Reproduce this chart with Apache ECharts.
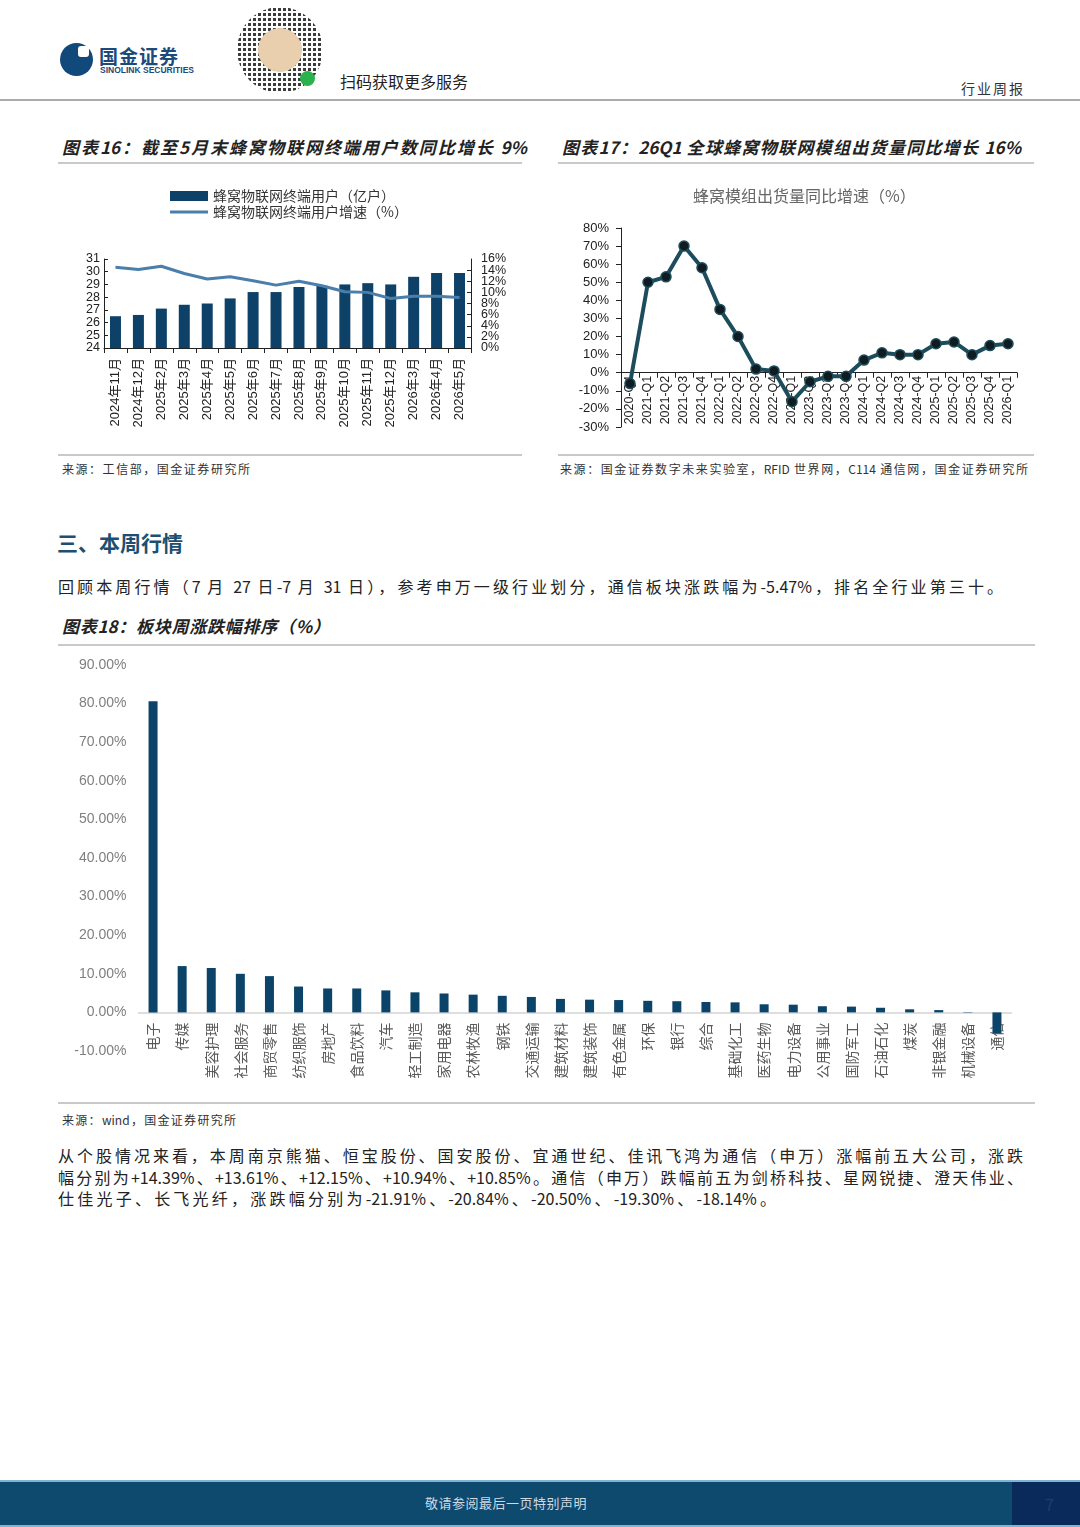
<!DOCTYPE html>
<html>
<head>
<meta charset="utf-8">
<script src="https://cdn.jsdelivr.net/npm/echarts@6/dist/echarts.min.js"></script>
<style>
  body { margin: 0; width: 1080px; height: 1527px; background: #fff; position: relative; overflow: hidden;
         font-family: "Noto Sans CJK SC", "Liberation Sans", sans-serif; color: #222; }
  .abs { position: absolute; }
  .hr { position: absolute; height: 2px; background: #c9c9c9; }
  .ftitle { position: absolute; font-size: 17px; font-weight: bold; font-style: italic; color: #222; white-space: nowrap;
            text-align: justify; text-align-last: justify; line-height: 24px; }
  .src { position: absolute; font-size: 12px; color: #333; white-space: nowrap; text-align: justify; text-align-last: justify; line-height: 16px; }
  .line { position: absolute; font-size: 16px; color: #222; line-height: 21.5px; white-space: nowrap; }
  .just { text-align: justify; text-align-last: justify; }
</style>
</head>
<body>
<!-- 页眉 -->
<div class="abs" style="left:60px;top:43px;width:33px;height:33px;border-radius:50%;background:#10497a;"></div>
<div class="abs" style="left:78px;top:46px;width:11px;height:11px;border-radius:3px;background:#fff;"></div>
<div class="abs" style="left:99px;top:46px;font-size:19px;line-height:19px;font-weight:bold;color:#1b4a7b;letter-spacing:1px;">国金证券</div>
<div class="abs" style="left:100px;top:66px;font-size:8.5px;line-height:9px;font-weight:bold;color:#1b4a7b;font-family:'Liberation Sans',sans-serif;">SINOLINK SECURITIES</div>
<div class="abs" style="left:237px;top:7px;width:86px;height:86px;border-radius:50%;
     background:radial-gradient(circle, #3a3a3a 1.4px, transparent 1.9px) 0 0/5px 5px;"></div>
<div class="abs" style="left:258px;top:28px;width:44px;height:44px;border-radius:50%;background:#e9cfae;"></div>
<div class="abs" style="left:300px;top:71px;width:15px;height:15px;border-radius:50%;background:#2bb24c;"></div>
<div class="abs" style="left:340px;top:69px;font-size:16px;color:#222;">扫码获取更多服务</div>
<div class="abs" style="left:961px;top:78px;font-size:14px;color:#333;letter-spacing:2px;">行业周报</div>
<div class="hr" style="left:0;top:99px;width:1080px;background:#aaa;"></div>

<!-- 图表16/17 -->
<div class="ftitle" style="left:62px;top:135px;width:465px;">图表16：截至5月末蜂窝物联网终端用户数同比增长 9%</div>
<div class="ftitle" style="left:562px;top:135px;width:459px;">图表17：26Q1 全球蜂窝物联网模组出货量同比增长 16%</div>
<div class="hr" style="left:58px;top:162px;width:464px;"></div>
<div class="hr" style="left:558px;top:162px;width:476px;"></div>
<div id="c16" class="abs" style="left:60px;top:178px;width:460px;height:262px;"></div>
<div id="c17" class="abs" style="left:570px;top:178px;width:460px;height:262px;"></div>
<div class="hr" style="left:58px;top:454px;width:464px;"></div>
<div class="hr" style="left:558px;top:454px;width:476px;"></div>
<div class="src" style="left:62px;top:461px;width:188px;">来源：工信部，国金证券研究所</div>
<div class="src" style="left:560px;top:461px;width:468px;">来源：国金证券数字未来实验室，RFID 世界网，C114 通信网，国金证券研究所</div>

<!-- 三、本周行情 -->
<div class="abs" style="left:57px;top:527px;font-size:21px;font-weight:bold;color:#1d5070;">三、本周行情</div>
<div class="line just" style="left:58px;top:576px;width:945px;">回顾本周行情（7 月 27 日-7 月 31 日），参考申万一级行业划分，通信板块涨跌幅为-5.47%，排名全行业第三十。</div>
<div class="ftitle" style="left:62px;top:614px;width:268px;">图表18：板块周涨跌幅排序（%）</div>
<div class="hr" style="left:58px;top:644px;width:977px;"></div>
<div id="c18" class="abs" style="left:58px;top:650px;width:977px;height:450px;"></div>
<div class="hr" style="left:58px;top:1102px;width:977px;"></div>
<div class="src" style="left:62px;top:1112px;width:174px;">来源：wind，国金证券研究所</div>
<div class="line just" style="left:58px;top:1145px;width:965px;">从个股情况来看，本周南京熊猫、恒宝股份、国安股份、宜通世纪、佳讯飞鸿为通信（申万）涨幅前五大公司，涨跌</div>
<div class="line just" style="left:58px;top:1167px;width:965px;">幅分别为+14.39%、+13.61%、+12.15%、+10.94%、+10.85%。通信（申万）跌幅前五为剑桥科技、星网锐捷、澄天伟业、</div>
<div class="line just" style="left:58px;top:1188px;width:718px;">仕佳光子、长飞光纤，涨跌幅分别为-21.91%、-20.84%、-20.50%、-19.30%、-18.14%。</div>

<!-- 页脚 -->
<div class="abs" style="left:0;top:1480px;width:1080px;height:2px;background:#7fb4d0;"></div>
<div class="abs" style="left:0;top:1482px;width:1012px;height:43px;background:#0e4a6e;"></div>
<div class="abs" style="left:1012px;top:1482px;width:68px;height:43px;background:#0b2a5c;"></div>
<div class="abs" style="left:0;top:1525px;width:1080px;height:2px;background:#7fb4d0;"></div>
<div class="abs" style="left:0;top:1493px;width:1012px;text-align:center;font-size:13px;letter-spacing:0.5px;color:#cdd9e3;">敬请参阅最后一页特别声明</div>
<div class="abs" style="left:1045px;top:1492px;font-size:16px;color:#1c3d6e;">7</div>

<script>
const FONT = "'Liberation Sans', 'Noto Sans CJK SC', sans-serif"

// 图表16 蜂窝物联网终端用户
const months16 = ['2024年11月', '2024年12月', '2025年2月', '2025年3月', '2025年4月', '2025年5月', '2025年6月', '2025年7月',
    '2025年8月', '2025年9月', '2025年10月', '2025年11月', '2025年12月', '2026年3月', '2026年4月', '2026年5月']
const users16 = [26.5, 26.6, 27.1, 27.4, 27.5, 27.9, 28.4, 28.4, 28.8, 28.9, 29.0, 29.1, 29.0, 29.6, 29.9, 29.9]
const growth16 = [14.5, 14.1, 14.7, 13.4, 12.4, 12.8, 12.1, 11.3, 12.0, 11.2, 10.1, 10.0, 8.9, 9.3, 9.3, 9.1]

// 图表17 蜂窝模组出货量同比
const quarters17 = ['2020-Q4', '2021-Q1', '2021-Q2', '2021-Q3', '2021-Q4', '2022-Q1', '2022-Q2', '2022-Q3', '2022-Q4',
    '2023-Q1', '2023-Q2', '2023-Q3', '2023-Q4', '2024-Q1', '2024-Q2', '2024-Q3', '2024-Q4',
    '2025-Q1', '2025-Q2', '2025-Q3', '2025-Q4', '2026-Q1']
const shipYoy17 = [-6, 50, 53, 70, 58, 35, 20, 2, 1, -16, -5, -2, -2, 7, 11, 10, 10, 16, 17, 10, 15, 16]

// 图表18 板块周涨跌幅
const sectors18 = ['电子', '传媒', '美容护理', '社会服务', '商贸零售', '纺织服饰', '房地产', '食品饮料', '汽车', '轻工制造',
    '家用电器', '农林牧渔', '钢铁', '交通运输', '建筑材料', '建筑装饰', '有色金属', '环保', '银行', '综合',
    '基础化工', '医药生物', '电力设备', '公用事业', '国防军工', '石油石化', '煤炭', '非银金融', '机械设备', '通信']
const change18 = [80.6, 12.0, 11.5, 10.0, 9.4, 6.7, 6.2, 6.2, 5.7, 5.2,
    4.9, 4.6, 4.3, 4.0, 3.5, 3.3, 3.2, 3.0, 2.9, 2.7,
    2.6, 2.1, 2.0, 1.6, 1.5, 1.2, 0.8, 0.6, 0.1, -5.47]

// 把类目轴挪到 0 刻度线上（标签跟着轴走）
function zeroOffset(gridHeight, min, max) {
    return -gridHeight * (0 - min) / (max - min)
}

const rightLabel = { fontSize: 12.5, color: '#222', margin: 10, formatter: '{value}%', hideOverlap: false }

// 渲染图表16
const chart16 = echarts.init(document.querySelector('#c16'))
chart16.setOption({
    textStyle: { fontFamily: FONT },
    animation: false,
    legend: {
        orient: 'vertical',
        left: 105,
        top: 6,
        itemWidth: 38,
        itemHeight: 10,
        itemGap: 2,
        textStyle: { fontSize: 14, color: '#333', fontFamily: "'Noto Sans CJK SC', sans-serif" },
        data: [
            { name: '蜂窝物联网终端用户（亿户）', icon: 'rect' },
            { name: '蜂窝物联网终端用户增速（%）', icon: 'path://M0,0 H38 V3 H0 Z' }
        ]
    },
    grid: { left: 44, right: 49, top: 81, bottom: 92, outerBoundsMode: 'none' },
    xAxis: {
        type: 'category',
        data: months16,
        axisLine: { lineStyle: { color: '#222' } },
        axisTick: { show: true, lineStyle: { color: '#222' } },
        axisLabel: { rotate: 90, interval: 0, fontSize: 13, color: '#222', margin: 10 }
    },
    yAxis: [
        {
            type: 'value', min: 24, max: 31, interval: 1,
            axisLine: { show: true, lineStyle: { color: '#222' } },
            axisTick: { show: true, inside: true, length: 4, lineStyle: { color: '#222' } },
            splitLine: { show: false },
            axisLabel: { fontSize: 12.5, color: '#222', margin: 4, hideOverlap: false, showMinLabel: true, showMaxLabel: true }
        },
        {
            // 右轴刻度很密：中间标签放这里，两端 0%、16% 由下一根轴补上
            type: 'value', min: 0, max: 16, interval: 2,
            axisLine: { show: true, lineStyle: { color: '#222' } },
            axisTick: { show: true, inside: true, length: 4, lineStyle: { color: '#222' } },
            splitLine: { show: false },
            axisLabel: { ...rightLabel, showMinLabel: false, showMaxLabel: false }
        },
        {
            type: 'value', position: 'right', min: 0, max: 16, interval: 16,
            axisLine: { show: false },
            axisTick: { show: false },
            splitLine: { show: false },
            axisLabel: { ...rightLabel, showMinLabel: true, showMaxLabel: true }
        }
    ],
    series: [
        {
            name: '蜂窝物联网终端用户（亿户）',
            type: 'bar',
            data: users16,
            barWidth: 11,
            itemStyle: { color: '#0d4168' }
        },
        {
            name: '蜂窝物联网终端用户增速（%）',
            type: 'line',
            yAxisIndex: 1,
            data: growth16,
            symbol: 'none',
            lineStyle: { color: '#4a7eab', width: 3 },
            itemStyle: { color: '#4a7eab' }
        }
    ]
})

// 渲染图表17
const min17 = -30, max17 = 80
const chart17 = echarts.init(document.querySelector('#c17'))
chart17.setOption({
    textStyle: { fontFamily: FONT },
    animation: false,
    title: {
        text: '蜂窝模组出货量同比增速（%）',
        left: 118,
        top: 5,
        textStyle: { fontSize: 16, fontWeight: 'normal', color: '#666', fontFamily: "'Noto Sans CJK SC', sans-serif" }
    },
    grid: { left: 51, right: 13, top: 50, bottom: 13, outerBoundsMode: 'none' },
    xAxis: {
        type: 'category',
        data: quarters17,
        offset: zeroOffset(262 - 50 - 13, min17, max17),
        axisLine: { onZero: false, lineStyle: { color: '#222' } },
        axisTick: { show: true, lineStyle: { color: '#222' } },
        axisLabel: { rotate: 90, interval: 0, fontSize: 12.5, color: '#222', margin: 3 }
    },
    yAxis: {
        type: 'value', min: min17, max: max17, interval: 10,
        axisLine: { show: true, lineStyle: { color: '#222' } },
        axisTick: { show: true, lineStyle: { color: '#222' } },
        splitLine: { show: false },
        axisLabel: { fontSize: 13, color: '#222', margin: 12, formatter: '{value}%', hideOverlap: false, showMinLabel: true, showMaxLabel: true }
    },
    series: [{
        type: 'line',
        data: shipYoy17,
        symbol: 'circle',
        symbolSize: 10,
        lineStyle: { color: '#1d4d5c', width: 4 },
        itemStyle: { color: '#101c20', borderColor: '#1d4d5c', borderWidth: 1.5 }
    }]
})

// 渲染图表18
const min18 = -10, max18 = 90
const chart18 = echarts.init(document.querySelector('#c18'))
chart18.setOption({
    textStyle: { fontFamily: FONT },
    animation: false,
    grid: { left: 80.5, right: 23.5, top: 15, bottom: 49, outerBoundsMode: 'none' },
    xAxis: {
        type: 'category',
        data: sectors18,
        offset: zeroOffset(450 - 15 - 49, min18, max18),
        axisLine: { onZero: false, lineStyle: { color: '#d4d4d4', width: 1.5 } },
        axisTick: { show: false },
        axisLabel: {
            interval: 0, rotate: 90, fontSize: 14, color: '#595959', margin: 10,
            fontFamily: "'Noto Sans CJK SC', sans-serif"
        }
    },
    yAxis: {
        type: 'value', min: min18, max: max18, interval: 10,
        axisLine: { show: false },
        axisTick: { show: false },
        splitLine: { show: false },
        axisLabel: { fontSize: 14, color: '#7f7f7f', margin: 12, formatter: v => v.toFixed(2) + '%', hideOverlap: false, showMinLabel: true, showMaxLabel: true }
    },
    series: [{
        type: 'bar',
        data: change18,
        barWidth: 9,
        itemStyle: { color: '#0b4468' }
    }]
})
</script>
</body>
</html>
